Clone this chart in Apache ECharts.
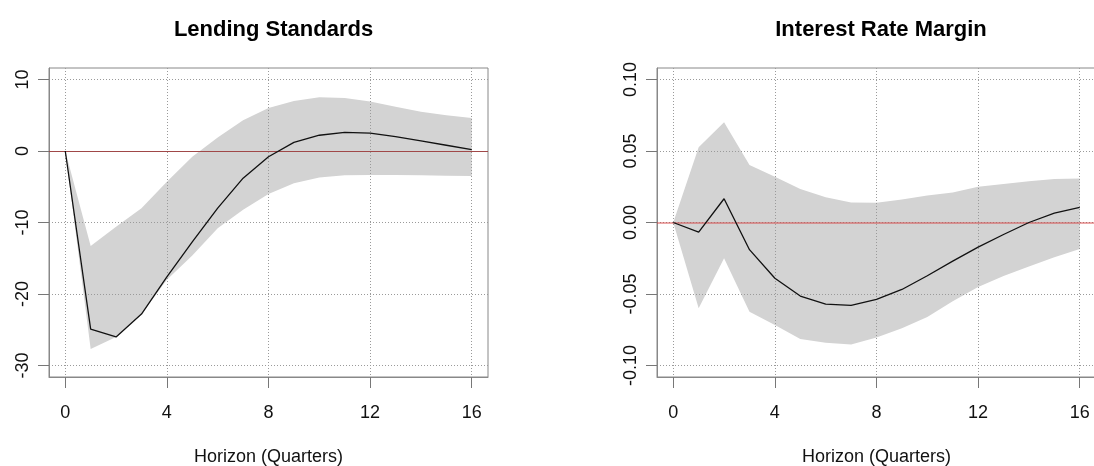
<!DOCTYPE html>
<html>
<head>
<meta charset="utf-8">
<script src="https://cdn.jsdelivr.net/npm/echarts@6/dist/echarts.min.js"></script>
<style>
html,body{margin:0;padding:0;background:#fff;}
#c{width:1094px;height:466px;}
</style>
</head>
<body>
<div id="c"></div>
<script>
// ---- data ----
var horizon = [0,1,2,3,4,5,6,7,8,9,10,11,12,13,14,15,16];
var xTicks = [0,4,8,12,16];

var lendTitle = "Lending Standards";
var lendMean  = [0,-24.9,-26.0,-22.8,-17.6,-12.7,-8.0,-3.8,-0.8,1.2,2.2,2.6,2.5,2.0,1.4,0.8,0.2];
var lendUpper = [0,-13.3,-10.6,-8.0,-4.3,-0.8,1.9,4.3,6.0,7.0,7.5,7.4,6.9,6.2,5.5,5.0,4.6];
var lendLower = [0,-27.7,-26.0,-22.8,-18.0,-14.6,-10.8,-8.2,-6.0,-4.5,-3.7,-3.4,-3.35,-3.35,-3.4,-3.45,-3.5];
var lendYTicks = [-30,-20,-10,0,10];

var irmTitle = "Interest Rate Margin";
var irmMean  = [0,-0.0068,0.0166,-0.019,-0.039,-0.0514,-0.057,-0.058,-0.0538,-0.0468,-0.0372,-0.027,-0.0172,-0.0084,0.0,0.0065,0.0106];
var irmUpper = [0,0.0526,0.070,0.0402,0.032,0.0234,0.0177,0.014,0.0138,0.016,0.0188,0.021,0.0250,0.027,0.0288,0.0304,0.0307];
var irmLower = [0,-0.060,-0.025,-0.0624,-0.0717,-0.0815,-0.084,-0.0853,-0.0804,-0.074,-0.066,-0.055,-0.045,-0.0374,-0.0308,-0.0243,-0.0185];
var irmYTicks = [-0.10,-0.05,0.00,0.05,0.10];

var xName = "Horizon (Quarters)";

// ---- chart ----
var chart = echarts.init(document.getElementById('c'), null, {renderer:'canvas'});
var FONT = '"Liberation Sans", Arial, sans-serif';

function pairs(y){ return horizon.map(function(x,i){ return [x, y[i]]; }); }
function triples(l,u){ return horizon.map(function(x,i){ return [x, l[i], u[i]]; }); }

var gridCol = '#9a9a9a';
var boxCol = '#888888';

function xAxisDef(gi){
  return {
    type:'value', gridIndex:gi, min:-0.64, max:16.64, z:3,
    name:xName, nameLocation:'middle', nameGap:71,
    nameTextStyle:{fontFamily:FONT, fontSize:18, color:'#111'},
    axisLine:{show:true, onZero:false, lineStyle:{color:boxCol, width:1}},
    axisTick:{show:true, length:11, customValues:xTicks, lineStyle:{color:'#777', width:1}},
    axisLabel:{customValues:xTicks, margin:27, fontFamily:FONT, fontSize:18, color:'#111'},
    splitLine:{show:true, lineStyle:{color:gridCol, type:[1,2], width:1}}
  };
}
function yAxisDef(gi, mn, mx, ticks, fmt){
  return {
    type:'value', gridIndex:gi, min:mn, max:mx, z:3,
    axisLine:{show:true, onZero:false, lineStyle:{color:boxCol, width:1}},
    axisTick:{show:true, length:11, customValues:ticks, lineStyle:{color:'#777', width:1}},
    axisLabel:{customValues:ticks, rotate:90, margin:17, fontFamily:FONT, fontSize:18, color:'#111', formatter:fmt},
    splitLine:{show:true, lineStyle:{color:gridCol, type:[1,2], width:1}}
  };
}

function bandSeries(gi, lower, upper){
  return {
    type:'custom', xAxisIndex:gi, yAxisIndex:gi, data:triples(lower, upper),
    encode:{x:0, y:[1,2]}, z:1, silent:true, clip:true,
    renderItem:function(params, api){
      if (params.dataIndex !== 0) return null;
      var pts = [];
      var i;
      for (i = 0; i < horizon.length; i++) pts.push(api.coord([horizon[i], upper[i]]));
      for (i = horizon.length - 1; i >= 0; i--) pts.push(api.coord([horizon[i], lower[i]]));
      return {type:'polygon', shape:{points:pts}, style:{fill:'#d3d3d3', stroke:null}};
    }
  };
}
function meanSeries(gi, mean, zeroColor, zeroWidth){
  return {type:'line', xAxisIndex:gi, yAxisIndex:gi, data:pairs(mean), symbol:'none',
    lineStyle:{color:'#111', width:1.3}, z:6, silent:true,
    markLine:{silent:true, symbol:'none', z:5, label:{show:false},
      lineStyle:{color:zeroColor, width:zeroWidth, type:'solid'},
      data:[{yAxis:0}]}};
}

var option = {
  animation:false,
  backgroundColor:'#fff',
  title:[
    {text:lendTitle, left:268.5, top:14, textAlign:'center',
     textStyle:{fontFamily:FONT, fontSize:22, fontWeight:'bold', color:'#000'}},
    {text:irmTitle, left:876, top:14, textAlign:'center',
     textStyle:{fontFamily:FONT, fontSize:22, fontWeight:'bold', color:'#000'}}
  ],
  grid:[
    {left:49, top:68, width:439, height:309, show:true, borderColor:boxCol, borderWidth:1,
     backgroundColor:'transparent', containLabel:false, outerBoundsMode:'none'},
    {left:657, top:68, width:439, height:309, show:true, borderColor:boxCol, borderWidth:1,
     backgroundColor:'transparent', containLabel:false, outerBoundsMode:'none'}
  ],
  xAxis:[xAxisDef(0), xAxisDef(1)],
  yAxis:[
    yAxisDef(0, -31.6, 11.6, lendYTicks, function(v){ return String(Math.round(v)); }),
    yAxisDef(1, -0.108, 0.108, irmYTicks, function(v){ return v.toFixed(2); })
  ],
  series:[
    bandSeries(0, lendLower, lendUpper),
    meanSeries(0, lendMean, '#a04848', 1),
    bandSeries(1, irmLower, irmUpper),
    meanSeries(1, irmMean, 'rgba(215,60,60,0.45)', 2)
  ]
};
chart.setOption(option);
</script>
</body>
</html>
